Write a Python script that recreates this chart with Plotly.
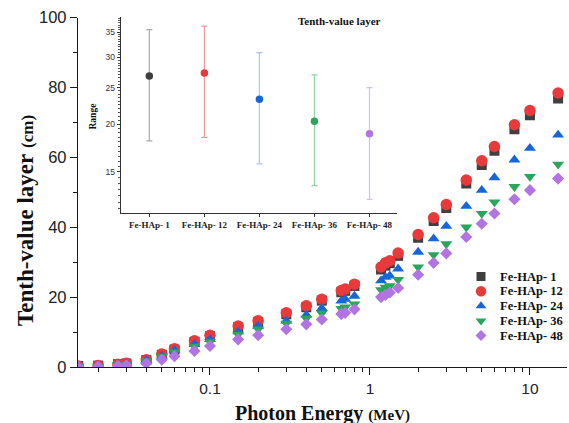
import plotly.graph_objects as go
import numpy as np

# ---------------- data ----------------
energy = [0.015, 0.02, 0.0266, 0.03, 0.04, 0.05, 0.06, 0.08, 0.1, 0.15, 0.2, 0.3, 0.4, 0.5,
          0.662, 0.7, 0.8, 1.173, 1.25, 1.33, 1.5, 2, 2.5, 3, 4, 5, 6, 8, 10, 15]

tvl_1 = [0.3, 0.4, 0.8, 1.0, 2.0, 3.5, 5.0, 7.2, 8.8, 11.4, 12.9, 15.1, 17.1, 19.0, 21.4, 21.8,
         23.2, 27.9, 29.0, 29.7, 31.8, 37.0, 41.8, 45.5, 52.5, 57.8, 61.9, 68.0, 72.0, 76.8]
tvl_12 = [0.3, 0.4, 0.8, 1.1, 2.1, 3.7, 5.2, 7.5, 9.1, 11.7, 13.2, 15.5, 17.5, 19.4, 21.9, 22.3,
          23.7, 28.6, 29.8, 30.4, 32.6, 37.9, 42.7, 46.5, 53.5, 59.0, 63.1, 69.3, 73.4, 78.4]
tvl_24 = [0.1, 0.25, 0.6, 0.9, 1.9, 3.1, 4.8, 6.5, 7.9, 10.1, 11.7, 13.2, 14.9, 16.8, 18.9, 19.4,
          20.3, 24.7, 25.7, 26.1, 28.1, 32.9, 36.7, 40.3, 46.0, 50.6, 54.2, 59.3, 62.6, 66.4]
tvl_36 = [0.1, 0.2, 0.6, 0.8, 1.7, 2.9, 4.3, 5.9, 7.2, 9.3, 10.8, 12.5, 13.9, 15.4, 16.7, 17.1,
          18.0, 22.1, 22.8, 23.2, 25.0, 28.6, 32.1, 35.2, 40.0, 43.9, 47.2, 51.6, 54.5, 58.0]
tvl_48 = [0.05, 0.15, 0.35, 0.5, 1.0, 2.1, 3.1, 4.6, 6.0, 7.9, 9.1, 10.8, 12.2, 13.6, 15.2, 15.5,
          16.5, 20.0, 20.6, 21.3, 22.6, 26.4, 29.8, 32.5, 37.2, 41.0, 43.9, 48.0, 50.6, 53.9]

samples = ["Fe-HAp- 1", "Fe-HAp- 12", "Fe-HAp- 24", "Fe-HAp- 36", "Fe-HAp- 48"]
range_mean = [26.8, 27.3, 23.3, 20.4, 18.9]
range_high = [35.5, 36.3, 30.9, 27.0, 25.0]
range_low = [18.1, 18.5, 15.75, 13.8, 12.7]

# ---------------- styles ----------------
colors = ["#3f3f3f", "#e8393b", "#1766d9", "#29a55c", "#b274e2"]
bar_colors = ["#a9a9a9", "#f39a9a", "#a9c5f2", "#8fd1ab", "#d9bdf2"]
symbols = ["square", "circle", "triangle-up", "triangle-down", "diamond"]
msizes = [10, 11.5, 10.5, 10.5, 9.3]
series = [tvl_1, tvl_12, tvl_24, tvl_36, tvl_48]

W, H = 569, 423
ML, MR, MT, MB = 78, 2, 14, 56
PW, PH = W - ML - MR, H - MT - MB


def px_x(px):
    return (px - ML) / PW


def px_y(py):
    return (H - MB - py) / PH


SERIF = "Liberation Serif"
SANS = "Liberation Sans"

fig = go.Figure()

for name, ys, c, s, ms in zip(samples, series, colors, symbols, msizes):
    fig.add_trace(go.Scatter(
        x=energy, y=ys, mode="markers", name=name, showlegend=False,
        marker=dict(symbol=s, size=ms, color=c, line=dict(width=0)),
        xaxis="x", yaxis="y"))

# inset: range with error bars
for i, name in enumerate(samples):
    fig.add_trace(go.Scatter(
        x=[i], y=[range_mean[i]], mode="markers", showlegend=False,
        marker=dict(size=7.5, color=colors[i]),
        error_y=dict(type="data", symmetric=False,
                     array=[range_high[i] - range_mean[i]],
                     arrayminus=[range_mean[i] - range_low[i]],
                     color=bar_colors[i], thickness=1.2, width=3),
        xaxis="x2", yaxis="y2"))

# manual legend (overlay axis spanning the plot area)
leg_x = px_x(481)
leg_rows = [276.5, 291.25, 306, 320.75, 335.5]
for i, name in enumerate(samples):
    fig.add_trace(go.Scatter(
        x=[leg_x], y=[px_y(leg_rows[i])], mode="markers", showlegend=False,
        marker=dict(symbol=symbols[i], size=msizes[i] * 0.9, color=colors[i]),
        hoverinfo="skip", xaxis="x3", yaxis="y3"))

annotations = []
for i, name in enumerate(samples):
    annotations.append(dict(
        x=px_x(498), y=px_y(leg_rows[i]), xref="paper", yref="paper",
        text="<b>%s</b>" % name, showarrow=False, xanchor="left", yanchor="middle",
        font=dict(family=SERIF, size=12.5, color="#111")))

# axis titles
annotations.append(dict(
    x=px_x(322.5), y=px_y(413), xref="paper", yref="paper", showarrow=False,
    text="<b>Photon Energy</b> <b><span style='font-size:15px'>(MeV)</span></b>",
    font=dict(family=SERIF, size=20, color="#111"), xanchor="center", yanchor="middle"))
annotations.append(dict(
    x=px_x(25), y=px_y(221), xref="paper", yref="paper", showarrow=False, textangle=-90,
    text="<b>Tenth-value layer</b> <b><span style='font-size:17px'>(cm)</span></b>",
    font=dict(family=SERIF, size=23, color="#111"), xanchor="center", yanchor="middle"))
# inset titles
annotations.append(dict(
    x=px_x(339), y=px_y(20.5), xref="paper", yref="paper", showarrow=False,
    text="<b>Tenth-value layer</b>", font=dict(family=SERIF, size=11, color="#111"),
    xanchor="center", yanchor="middle"))
annotations.append(dict(
    x=px_x(92.5), y=px_y(117), xref="paper", yref="paper", showarrow=False, textangle=-90,
    text="<b>Range</b>", font=dict(family=SERIF, size=9.5, color="#111"),
    xanchor="center", yanchor="middle"))

y_top = px_y(17.5)
inset_minor = [round(v, 1) for v in np.arange(12.0, 38.5, 0.5)]
main_x_minor = [m * 10.0 ** e for e in (-2, -1, 0, 1) for m in range(2, 10)]

fig.update_layout(
    width=W, height=H,
    margin=dict(l=ML, r=MR, t=MT, b=MB, pad=0),
    paper_bgcolor="white", plot_bgcolor="rgba(0,0,0,0)",
    showlegend=False,
    xaxis=dict(type="log", range=[np.log10(0.01496), np.log10(17.05)], domain=[0, 1],
               anchor="y", showgrid=False, zeroline=False,
               showline=True, linecolor="#1a1a1a", linewidth=1.3,
               ticks="outside", ticklen=7, tickwidth=1.2, tickcolor="#1a1a1a",
               tickvals=[0.1, 1, 10], ticktext=["0.1", "1", "10"],
               tickfont=dict(family=SANS, size=15.5, color="#222"),
               minor=dict(tickvals=main_x_minor, ticks="outside", ticklen=4,
                          tickwidth=1, tickcolor="#1a1a1a", showgrid=False)),
    yaxis=dict(range=[0, 100], domain=[0, y_top], anchor="x", showgrid=False, zeroline=False,
               showline=True, linecolor="#1a1a1a", linewidth=1.3,
               ticks="outside", ticklen=7, tickwidth=1.2, tickcolor="#1a1a1a",
               tickvals=[0, 20, 40, 60, 80, 100],
               tickfont=dict(family=SANS, size=16.5, color="#222"),
               minor=dict(dtick=10, ticks="outside", ticklen=4, tickwidth=1,
                          tickcolor="#1a1a1a", showgrid=False)),
    xaxis2=dict(domain=[px_x(120.7), px_x(397)], anchor="y2", range=[-0.52, 4.5],
                showgrid=False, zeroline=False, showline=True, linecolor="#333",
                linewidth=1, ticks="outside", ticklen=3, tickcolor="#333",
                tickvals=list(range(len(samples))),
                ticktext=["<b>%s</b>" % s for s in samples],
                tickfont=dict(family=SERIF, size=9, color="#222")),
    yaxis2=dict(type="log", domain=[px_y(213), px_y(16.5)], anchor="x2",
                range=[1.068, 1.585], showgrid=False, zeroline=False,
                showline=True, linecolor="#333", linewidth=1,
                ticks="outside", ticklen=3, tickcolor="#333",
                tickvals=[15, 20, 25, 30, 35],
                tickfont=dict(family=SANS, size=8.5, color="#333"),
                minor=dict(tickvals=inset_minor, ticks="outside", ticklen=2,
                           tickwidth=0.8, tickcolor="#555", showgrid=False)),
    xaxis3=dict(domain=[0, 1], range=[0, 1], anchor="y3", visible=False, fixedrange=True),
    yaxis3=dict(domain=[0, 1], range=[0, 1], anchor="x3", visible=False, fixedrange=True),
    annotations=annotations,
)

fig.write_html("out.html")
